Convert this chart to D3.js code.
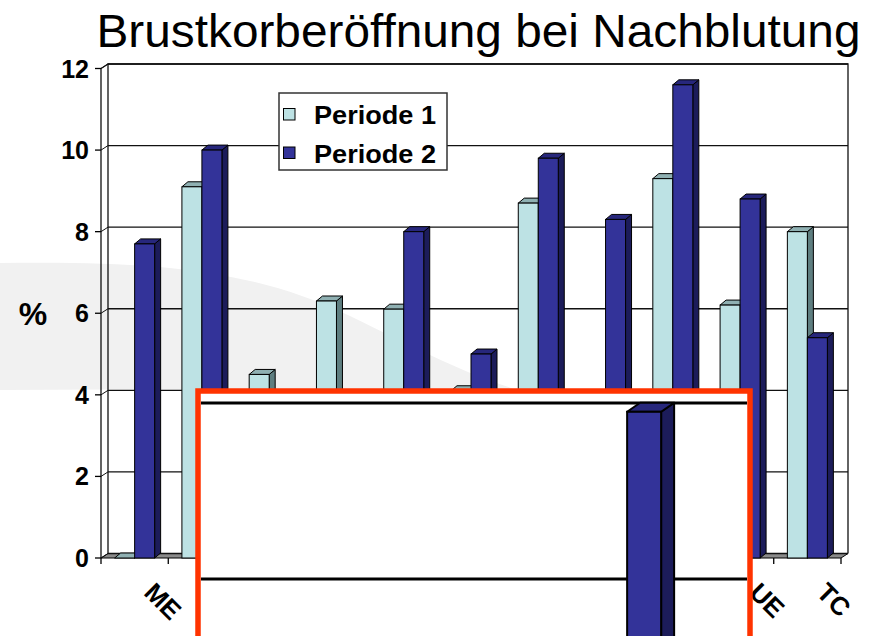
<!DOCTYPE html>
<html>
<head>
<meta charset="utf-8">
<script src="https://cdn.jsdelivr.net/npm/d3@7"></script>
<style>
  body { margin: 0; background: #fff; }
  svg { display: block; font-family: "Liberation Sans", Arial, Helvetica, sans-serif; }
</style>
</head>
<body>
<svg id="chart"></svg>
<script>
// data (hidden bars under the overlay are estimates)
const categories = ['ME', 'K2', 'K3', 'K4', 'K5', 'K6', 'K7', 'K8', 'K9', 'UE', 'TC'];
const seriesNames = ['Periode 1', 'Periode 2'];
const periode1 = [0, 9.1, 4.5, 6.3, 6.1, 4.1, 8.7, 3.2, 9.3, 6.2, 8.0];
const periode2 = [7.7, 10.0, 2.8, 3.4, 8.0, 5.0, 9.8, 8.3, 11.6, 8.8, 5.4];
const yTicks = [0, 2, 4, 6, 8, 10, 12];

// inset (magnified panel in the red frame)
const insetGrid = [4, 2];
const insetCategory = 'K9';
const insetValue = 3.9;

class Chart3D {

    constructor(_config) {
        this.config = {
            parentElement: _config.parentElement,
            containerWidth: 878,
            containerHeight: 636,
            margin: { top: 68.5, bottom: 78, right: 37, left: 101 },
            depth: { dx: 7, dy: -4.5 },
            barDepth: { dx: 6, dy: -5 },
            barWidth: 20
        };
        this.initVis();
    }

    initVis() {
        let vis = this;
        const c = vis.config;

        vis.svg = d3.select(c.parentElement)
            .attr('width', c.containerWidth)
            .attr('height', c.containerHeight);

        vis.x0 = c.margin.left;
        vis.x1 = c.containerWidth - c.margin.right;
        vis.yBase = c.containerHeight - c.margin.bottom;

        vis.xScale = d3.scaleBand()
            .domain(categories)
            .range([vis.x0, vis.x1]);

        vis.xSeries = d3.scaleBand()
            .domain(seriesNames)
            .range([vis.xScale.bandwidth() / 2 - c.barWidth, vis.xScale.bandwidth() / 2 + c.barWidth]);

        vis.yScale = d3.scaleLinear()
            .domain([0, 12])
            .range([vis.yBase, c.margin.top]);

        vis.colors = {
            'Periode 1': { front: '#bde2e4', side: '#5e7e80', top: '#8fb0b2' },
            'Periode 2': { front: '#333399', side: '#1c1c5a', top: '#27277c' }
        };

        vis.renderVis();
    }

    renderVis() {
        let vis = this;
        const c = vis.config;
        const dx = c.depth.dx, dy = c.depth.dy;

        // background swoosh of the slide
        vis.svg.append('path')
            .attr('d', 'M0,263 C150,261 250,268 350,316 C420,350 470,378 545,398 C400,392 200,388 0,390 Z')
            .attr('fill', '#f1f1f1');

        // title
        vis.svg.append('text')
            .attr('x', 96.5)
            .attr('y', 46.5)
            .attr('font-size', 46)
            .attr('textLength', 764)
            .attr('lengthAdjust', 'spacingAndGlyphs')
            .attr('fill', '#000')
            .text('Brustkorberöffnung bei Nachblutung');

        const g = vis.svg.append('g');

        // floor
        g.append('path')
            .attr('d', `M${vis.x0},${vis.yBase} L${vis.x1},${vis.yBase} L${vis.x1 + dx},${vis.yBase + dy} L${vis.x0 + dx},${vis.yBase + dy} Z`)
            .attr('fill', '#8a8a8a')
            .attr('stroke', '#000')
            .attr('stroke-width', 1);

        // back wall gridlines + side wall gridlines
        yTicks.forEach(t => {
            const yf = vis.yScale(t);
            g.append('line')
                .attr('x1', vis.x0 + dx).attr('x2', vis.x1 + dx)
                .attr('y1', yf + dy).attr('y2', yf + dy)
                .attr('stroke', '#111').attr('stroke-width', 1.3);
            g.append('line')
                .attr('x1', vis.x0).attr('x2', vis.x0 + dx)
                .attr('y1', yf).attr('y2', yf + dy)
                .attr('stroke', '#111').attr('stroke-width', 1);
        });

        // walls outline
        const yTop = vis.yScale(12);
        g.append('path')
            .attr('d', `M${vis.x0 + dx},${vis.yBase + dy} L${vis.x0 + dx},${yTop + dy} L${vis.x1 + dx},${yTop + dy} L${vis.x1 + dx},${vis.yBase + dy}`)
            .attr('fill', 'none').attr('stroke', '#111').attr('stroke-width', 1.3);
        g.append('path')
            .attr('d', `M${vis.x0},${vis.yBase} L${vis.x0},${yTop} L${vis.x0 + dx},${yTop + dy}`)
            .attr('fill', 'none').attr('stroke', '#111').attr('stroke-width', 1.3);

        // y ticks and labels
        yTicks.forEach(t => {
            const yf = vis.yScale(t);
            g.append('line')
                .attr('x1', vis.x0 - 6).attr('x2', vis.x0)
                .attr('y1', yf).attr('y2', yf)
                .attr('stroke', '#000').attr('stroke-width', 1.3);
            g.append('text')
                .attr('x', vis.x0 - 12)
                .attr('y', yf)
                .attr('dy', '0.36em')
                .attr('text-anchor', 'end')
                .attr('font-size', 25)
                .attr('font-weight', 'bold')
                .text(t);
        });

        g.append('text')
            .attr('x', 33)
            .attr('y', vis.yScale(6))
            .attr('dy', '0.36em')
            .attr('text-anchor', 'middle')
            .attr('font-size', 32)
            .attr('font-weight', 'bold')
            .text('%');

        // x ticks at category boundaries
        const bounds = categories.map(d => vis.xScale(d)).concat([vis.x1]);
        bounds.forEach(bx => {
            g.append('line')
                .attr('x1', bx).attr('x2', bx)
                .attr('y1', vis.yBase).attr('y2', vis.yBase + 6)
                .attr('stroke', '#000').attr('stroke-width', 1.3);
        });

        // category labels
        categories.forEach(d => {
            const cx = vis.xScale(d) + vis.xScale.bandwidth() / 2 + 8;
            g.append('text')
                .attr('transform', `translate(${cx},${vis.yBase + 36}) rotate(45)`)
                .attr('font-size', 26)
                .attr('font-weight', 'bold')
                .text(d);
        });

        // bars
        const bars = [];
        categories.forEach((d, i) => {
            bars.push({ cat: d, series: 'Periode 1', value: periode1[i] });
            bars.push({ cat: d, series: 'Periode 2', value: periode2[i] });
        });

        const barG = g.selectAll('.bar')
            .data(bars)
            .enter()
            .append('g')
                .attr('class', 'bar');

        barG.each(function(d) {
            const sel = d3.select(this);
            const bx = vis.xScale(d.cat) + vis.xSeries(d.series);
            vis.drawBar(sel, bx, c.barWidth, vis.yScale(d.value), vis.yBase,
                c.barDepth.dx, c.barDepth.dy, vis.colors[d.series], 1);
        });

        // legend
        const leg = vis.svg.append('g');
        leg.append('rect')
            .attr('x', 279).attr('y', 93)
            .attr('width', 168).attr('height', 77)
            .attr('fill', '#fff')
            .attr('stroke', '#333').attr('stroke-width', 1.5);
        seriesNames.forEach((s, i) => {
            leg.append('rect')
                .attr('x', 283.5).attr('y', 108.5 + i * 38.5)
                .attr('width', 11.5).attr('height', 11.5)
                .attr('fill', vis.colors[s].front)
                .attr('stroke', '#000').attr('stroke-width', 1);
            leg.append('text')
                .attr('x', 314)
                .attr('y', 124 + i * 38.5)
                .attr('font-size', 26)
                .attr('font-weight', 'bold')
                .attr('textLength', 122)
                .attr('lengthAdjust', 'spacingAndGlyphs')
                .text(s);
        });

        // red framed inset
        vis.drawInset();
    }

    drawBar(sel, bx, w, yt, yb, ddx, ddy, col, sw) {
        sel.append('path')
            .attr('d', `M${bx + w},${yb} L${bx + w + ddx},${yb + ddy} L${bx + w + ddx},${yt + ddy} L${bx + w},${yt} Z`)
            .attr('fill', col.side).attr('stroke', '#000').attr('stroke-width', sw).attr('stroke-linejoin', 'round');
        sel.append('path')
            .attr('d', `M${bx},${yt} L${bx + ddx},${yt + ddy} L${bx + w + ddx},${yt + ddy} L${bx + w},${yt} Z`)
            .attr('fill', col.top).attr('stroke', '#000').attr('stroke-width', sw).attr('stroke-linejoin', 'round');
        if (yb - yt > 0.5) {
            sel.append('rect')
                .attr('x', bx).attr('y', yt)
                .attr('width', w).attr('height', yb - yt)
                .attr('fill', col.front).attr('stroke', '#000').attr('stroke-width', sw);
        }
    }

    drawInset() {
        let vis = this;
        const frame = { x: 198, y: 391, w: 552, h: 320 };

        const inset = vis.svg.append('g');
        inset.append('rect')
            .attr('x', frame.x).attr('y', frame.y)
            .attr('width', frame.w).attr('height', frame.h)
            .attr('fill', '#fff')
            .attr('stroke', '#ff3300')
            .attr('stroke-width', 5.5);

        const iy = d3.scaleLinear().domain([2, 4]).range([579, 403]);
        const ix = d3.scaleBand().domain(categories).range([206, 751]);

        insetGrid.forEach(t => {
            inset.append('line')
                .attr('x1', frame.x + 3).attr('x2', frame.x + frame.w - 3)
                .attr('y1', iy(t)).attr('y2', iy(t))
                .attr('stroke', '#000').attr('stroke-width', 3);
        });

        const bx = ix(insetCategory) + ix.bandwidth() / 2;
        vis.drawBar(inset.append('g'), bx, 34, iy(insetValue), iy(0),
            13, -9, vis.colors['Periode 2'], 2);
    }
}

new Chart3D({ parentElement: '#chart' });
</script>
</body>
</html>
